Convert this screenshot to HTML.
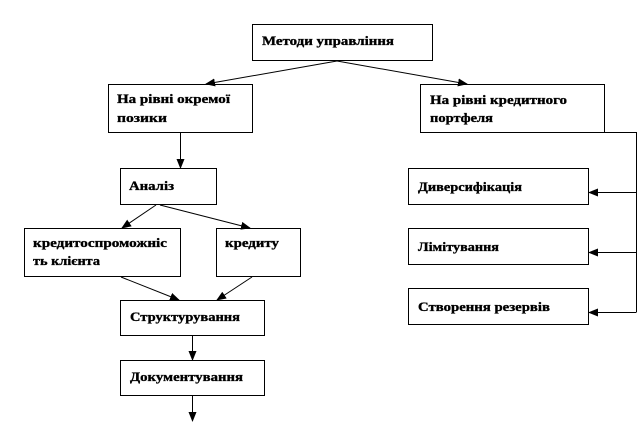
<!DOCTYPE html>
<html><head><meta charset="utf-8"><style>
html,body{margin:0;padding:0;background:#fff;width:637px;height:432px;overflow:hidden}
text{font-family:"Liberation Serif",serif;font-weight:bold;font-size:13px;fill:#000;stroke:#000;stroke-width:0.35}
</style></head><body>
<svg width="637" height="432" viewBox="0 0 637 432" xmlns="http://www.w3.org/2000/svg">
<defs><marker id="a" markerWidth="10" markerHeight="8" refX="9" refY="4" orient="auto" markerUnits="userSpaceOnUse"><path d="M0,0 L10,4 L0,8 z" fill="#000"/></marker></defs>
<g fill="none" stroke="#000" stroke-width="1">
<rect x="252.5" y="24.5" width="180" height="36"/>
<rect x="108.5" y="84.5" width="144" height="48"/>
<rect x="420.5" y="84.5" width="184" height="48"/>
<rect x="120.5" y="168.5" width="96" height="36"/>
<rect x="24.5" y="228.5" width="156" height="48"/>
<rect x="216.5" y="228.5" width="84" height="48"/>
<rect x="120.5" y="300.5" width="144" height="35"/>
<rect x="120.5" y="360.5" width="144" height="35"/>
<rect x="408.5" y="168.5" width="180" height="36"/>
<rect x="408.5" y="228.5" width="180" height="36"/>
<rect x="408.5" y="288.5" width="180" height="36"/>
<line x1="337" y1="61" x2="206" y2="84" marker-end="url(#a)"/>
<line x1="337" y1="61" x2="467" y2="84" marker-end="url(#a)"/>
<line x1="180.5" y1="133" x2="180.5" y2="168" marker-end="url(#a)"/>
<line x1="156" y1="205" x2="122" y2="228" marker-end="url(#a)"/>
<line x1="160" y1="205" x2="250" y2="228" marker-end="url(#a)"/>
<line x1="121" y1="277" x2="179" y2="300" marker-end="url(#a)"/>
<line x1="252" y1="277" x2="217" y2="300" marker-end="url(#a)"/>
<line x1="192.5" y1="336" x2="192.5" y2="360" marker-end="url(#a)"/>
<line x1="192.5" y1="396" x2="192.5" y2="421" marker-end="url(#a)"/>
<polyline points="604,132.5 636.5,132.5 636.5,312.5"/>
<line x1="636" y1="192.5" x2="589" y2="192.5" marker-end="url(#a)"/>
<line x1="636" y1="252.5" x2="589" y2="252.5" marker-end="url(#a)"/>
<line x1="636" y1="312.5" x2="589" y2="312.5" marker-end="url(#a)"/>
</g>
<text x="262" y="45" textLength="132" lengthAdjust="spacingAndGlyphs">Методи управління</text>
<text x="117" y="103" textLength="113" lengthAdjust="spacingAndGlyphs">На рівні окремої</text>
<text x="117" y="122" textLength="50" lengthAdjust="spacingAndGlyphs">позики</text>
<text x="430" y="104" textLength="137" lengthAdjust="spacingAndGlyphs">На рівні кредитного</text>
<text x="430" y="122" textLength="63" lengthAdjust="spacingAndGlyphs">портфеля</text>
<text x="129" y="190" textLength="45" lengthAdjust="spacingAndGlyphs">Аналіз</text>
<text x="33" y="247" textLength="134" lengthAdjust="spacingAndGlyphs">кредитоспроможніс</text>
<text x="33" y="265" textLength="67" lengthAdjust="spacingAndGlyphs">ть клієнта</text>
<text x="225" y="247" textLength="54" lengthAdjust="spacingAndGlyphs">кредиту</text>
<text x="130" y="321" textLength="110" lengthAdjust="spacingAndGlyphs">Структурування</text>
<text x="130" y="381" textLength="113" lengthAdjust="spacingAndGlyphs">Документування</text>
<text x="418" y="191" textLength="104" lengthAdjust="spacingAndGlyphs">Диверсифікація</text>
<text x="418" y="251" textLength="81" lengthAdjust="spacingAndGlyphs">Лімітування</text>
<text x="418" y="311" textLength="132" lengthAdjust="spacingAndGlyphs">Створення резервів</text>
</svg>
</body></html>
